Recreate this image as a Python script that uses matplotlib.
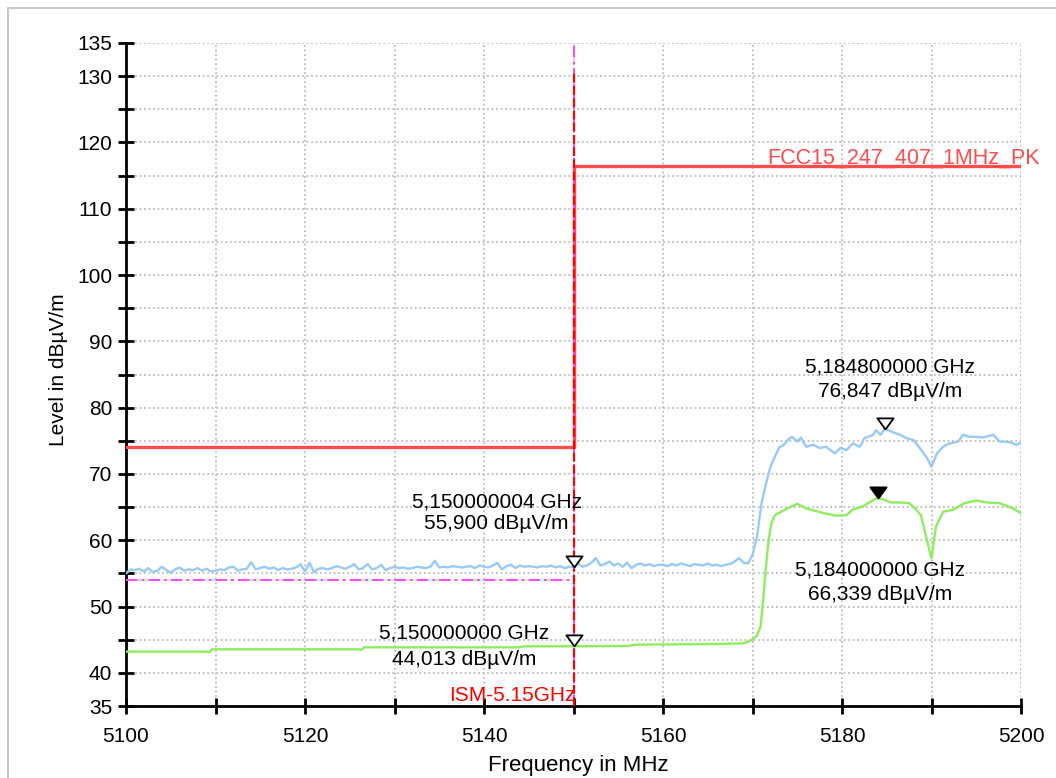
import numpy as np
import matplotlib
matplotlib.use("Agg")
import matplotlib.pyplot as plt
from matplotlib.patches import Rectangle

plt.rcParams["font.family"] = ["Liberation Sans", "DejaVu Sans"]

# ---- data ----
# blue (peak) trace: flat part sampled every 0.5 MHz, then the channel edge
blue_flat_freq = np.arange(5100, 5168.01, 0.5)
blue_flat_level = [
    55.0, 55.6, 55.5, 55.7, 55.3, 55.8, 55.2, 55.4, 56.0, 55.5,
    55.1, 55.6, 55.9, 55.4, 55.6, 55.5, 55.8, 55.4, 55.7, 55.3,
    55.4, 55.6, 55.5, 55.9, 56.0, 55.4, 55.6, 55.7, 56.7, 55.6,
    55.8, 56.0, 55.7, 55.9, 55.5, 55.8, 55.6, 55.7, 55.9, 56.4,
    55.3, 56.6, 55.2, 55.7, 55.8, 55.6, 55.8, 56.1, 55.9, 55.7,
    56.0, 56.4, 55.6, 55.8, 56.4, 55.6, 55.8, 56.3, 55.5, 55.8,
    56.0, 55.8, 55.9, 55.7, 55.8, 56.0, 55.9, 55.8, 56.0, 56.9,
    55.9, 56.0, 55.9, 56.1, 56.0, 55.9, 56.0, 56.1, 55.8, 56.2,
    56.0, 55.9, 56.2, 56.6, 55.6, 56.1, 56.3, 55.8, 56.2, 56.0,
    56.1, 56.0, 55.9, 56.1, 56.0, 56.2, 55.9, 56.1, 55.8, 56.0,
    55.9, 56.5, 56.0, 56.2, 56.6, 57.3, 56.2, 56.4, 56.8, 56.2,
    56.5, 56.0, 56.6, 55.8, 56.3, 56.5, 56.2, 56.4, 56.1, 56.3,
    56.3, 56.1, 56.4, 56.2, 56.5, 56.3, 56.1, 56.4, 56.3, 56.2,
    56.5, 56.2, 56.3, 56.1, 56.3, 56.4, 56.8,
]
blue_edge_freq = [
    5168.5, 5169, 5169.5, 5170, 5170.5, 5171, 5171.5, 5172, 5172.5, 5173,
    5173.5, 5174, 5174.4, 5175, 5175.4, 5176, 5176.8, 5177.5, 5178.2, 5179.2,
    5179.8, 5180.5, 5181.2, 5182, 5182.5, 5183.5, 5183.8, 5184.3, 5184.8, 5185.5,
    5186.5, 5187.2, 5188, 5188.7, 5189.5, 5190, 5190.6, 5191.3, 5192, 5193,
    5193.5, 5194.3, 5195, 5195.7, 5196.9, 5197.6, 5198.7, 5199.5, 5200,
]
blue_edge_level = [
    57.3, 56.6, 56.5, 57.8, 60.5, 65.5, 68.5, 71.1, 72.6, 74.0,
    74.4, 75.2, 75.6, 74.9, 75.5, 74.1, 74.4, 73.9, 74.1, 73.1,
    73.9, 73.6, 74.6, 74.1, 75.4, 75.9, 76.6, 75.9, 76.85, 76.4,
    75.9, 75.4, 75.1, 73.9, 72.4, 71.1, 73.1, 74.1, 74.6, 74.9,
    75.9, 75.6, 75.6, 75.5, 75.9, 74.9, 74.8, 74.4, 74.7,
]

# green (average) trace
green_freq = [
    5100, 5109, 5109.3, 5109.6, 5126, 5126.3, 5126.6, 5144, 5144.5, 5150,
    5156, 5157, 5166, 5169, 5170, 5170.5, 5170.9, 5171.2, 5171.5, 5171.8,
    5172.1, 5172.5, 5173.9, 5175, 5176, 5177.9, 5179.4, 5180.5, 5181.2, 5182.3,
    5183.8, 5184.3, 5185.5, 5186.4, 5187.5, 5188.1, 5188.8, 5189.4, 5190, 5190.5,
    5191.3, 5192.4, 5193.7, 5195, 5196.1, 5197.6, 5199.1, 5200,
]
green_level = [
    43.2, 43.2, 43.1, 43.55, 43.55, 43.45, 43.85, 43.85, 44.0, 44.01,
    44.05, 44.25, 44.35, 44.45, 45.0, 45.6, 47.0, 51.0, 56.0, 60.0,
    62.5, 63.8, 64.8, 65.5, 64.8, 64.1, 63.7, 63.8, 64.6, 65.1,
    66.3, 66.3, 65.7, 65.7, 65.6, 64.9, 63.8, 60.5, 57.3, 62.1,
    64.3, 64.6, 65.6, 66.0, 65.7, 65.6, 64.8, 64.1,
]

# limit lines
limit_freq = [5100, 5150, 5200]
limit_level = [74.0, 116.4, 116.4]
avg_limit_freq = [5100, 5150]
avg_limit_level = [54.0, 54.0]
limit_name = "FCC15_247_407_1MHz_PK"
ism_freq = 5150
ism_name = "ISM-5.15GHz"

# markers
marker_freq = [5150.000004, 5150.0, 5184.8, 5184.0]
marker_level = [55.900, 44.013, 76.847, 66.339]
marker_filled = [False, False, False, True]

x_ticks = list(range(5100, 5201, 10))
x_ticklabels = [str(v) if v % 20 == 0 else "" for v in x_ticks]
y_ticks = list(range(35, 136, 5))
y_ticklabels = [str(v) if (v % 10 == 0 or v in (35, 135)) else "" for v in y_ticks]

BLUE = "#99c9f7"
GREEN = "#8ded5e"
LIMIT_RED = "#ff4d4d"
MAGENTA = "#ff44ff"

# ---- figure ----
W, H = 1056, 778
fig = plt.figure(figsize=(W / 100, H / 100), dpi=100)
fig.add_artist(Rectangle((8 / W, -0.1), 1.2, 1.1 - 8 / H, transform=fig.transFigure,
                         fill=False, edgecolor="#c8c8c8", lw=1.5))
ax = fig.add_axes([126 / W, 1 - 706 / H, (1021 - 126) / W, (706 - 43) / H])

ax.set_xlim(5100, 5200)
ax.set_ylim(35, 135)
ax.set_xticks(x_ticks)
ax.set_xticklabels(x_ticklabels)
ax.set_yticks(y_ticks)
ax.set_yticklabels(y_ticklabels)
ax.tick_params(direction="inout", length=12, width=2, labelsize=15, colors="black")
ax.tick_params(axis="x", pad=9)
ax.tick_params(axis="y", pad=4)
ax.grid(True, color="#bdbdbd", linestyle=(0, (1, 1.5)), linewidth=1.3)
ax.set_axisbelow(True)
for s in ("top", "right"):
    ax.spines[s].set_visible(False)
for s in ("left", "bottom"):
    ax.spines[s].set_linewidth(2)

# limits
ax.plot(limit_freq, limit_level, drawstyle="steps-post", color=LIMIT_RED, lw=2.4, zorder=3)
ax.plot(avg_limit_freq, avg_limit_level, color=MAGENTA, lw=1.4,
        linestyle=(0, (6, 2, 1.5, 2)), zorder=3)
ax.axvline(ism_freq, color=MAGENTA, lw=1.4, linestyle=(0, (6, 2, 1.5, 2)), zorder=3)
ax.plot([ism_freq, ism_freq], [35, 130.5], color="red", lw=1.6,
        linestyle=(0, (4, 1.5)), zorder=3)

# traces
ax.plot(list(blue_flat_freq) + blue_edge_freq, blue_flat_level + blue_edge_level,
        color=BLUE, lw=1.7, zorder=4)
ax.plot(green_freq, green_level, color=GREEN, lw=1.7, zorder=4)

# limit labels
ax.annotate(limit_name, xy=(limit_freq[-1], limit_level[-1]), xytext=(19, 3),
            textcoords="offset pixels", ha="right", va="baseline", fontsize=15.5,
            color=LIMIT_RED, annotation_clip=False, zorder=2)
ax.annotate(ism_name, xy=(ism_freq, 35), xytext=(2, 5), textcoords="offset pixels",
            ha="right", va="baseline", fontsize=15, color="red")

# markers (down triangles with tip on the trace)
tri = [(0, 0), (-8, 11), (8, 11), (0, 0)]
for f, lv, filled in zip(marker_freq, marker_level, marker_filled):
    ax.plot([f], [lv], marker=tri, markersize=16, markeredgecolor="black",
            markerfacecolor="black" if filled else "white", markeredgewidth=1.3,
            linestyle="none", zorder=6)

text_offsets = [(-77, 60, 38), (-109, 8, -19), (5, 56, 32), (2, -77, -102)]
for f, lv, (dx, dy1, dy2) in zip(marker_freq, marker_level, text_offsets):
    line1 = f"{f / 1000:.9f} GHz".replace(".", ",")
    line2 = f"{lv:.3f} dBµV/m".replace(".", ",")
    for txt, dy in ((line1, dy1), (line2, dy2)):
        ax.annotate(txt, xy=(f, lv), xytext=(dx, dy), textcoords="offset pixels",
                    ha="center", va="baseline", fontsize=15, color="black", zorder=7)

# axis titles
fig.text(58 / W, 1 - 370 / H, "Level in dBµV/m", rotation=90, ha="center", va="center",
         fontsize=15)
fig.text(578 / W, 1 - 771 / H, "Frequency in MHz", ha="center", va="baseline", fontsize=16)

fig.savefig("out.png", dpi=100)
